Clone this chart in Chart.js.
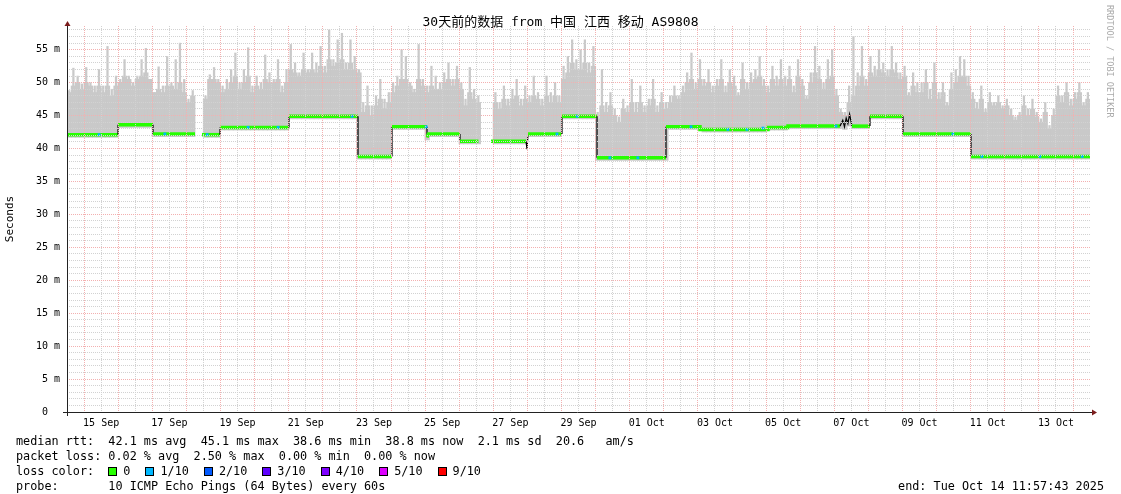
<!DOCTYPE html>
<html>
<head>
<meta charset="utf-8">
<title>30天前的数据 from 中国 江西 移动 AS9808</title>
<script src="https://cdn.jsdelivr.net/npm/chart.js@4.4.1/dist/chart.umd.min.js"></script>
<style>
  html, body { margin: 0; padding: 0; background: #fff; }
  #wrap { position: relative; width: 1121px; height: 494px; overflow: hidden; }
  #chart { position: absolute; left: 0; top: 0; }
  .info { position: absolute; left: 16px; font: 11.8px 'DejaVu Sans Mono', monospace; white-space: pre; color: #000; line-height: 15px; }
  .box { display: inline-block; width: 7px; height: 7px; border: 1px solid #000; vertical-align: -1px; margin-right: 6px; }
  .lbl { margin-right: 15px; }
</style>
</head>
<body>
<div id="wrap">
  <canvas id="chart" width="1121" height="494"></canvas>
  <div class="info" style="top:434px">median rtt:  42.1 ms avg  45.1 ms max  38.6 ms min  38.8 ms now  2.1 ms sd  20.6   am/s</div>
  <div class="info" style="top:449px">packet loss: 0.02 % avg  2.50 % max  0.00 % min  0.00 % now</div>
  <div class="info" id="lossRow" style="top:464px">loss color:  </div>
  <div class="info" style="top:479px">probe:       10 ICMP Echo Pings (64 Bytes) every 60s</div>
  <div class="info" style="top:479px; left:auto; right:17px">end: Tue Oct 14 11:57:43 2025</div>
</div>
<script>
// x in days since Sep 14 11:57:43 (30 days, ending Oct 14 11:57:43)
const chartTitle = '30天前的数据 from 中国 江西 移动 AS9808';
const firstNoon = 0.0016; // Sep 14 12:00
const xTickLabels = ['15 Sep', '17 Sep', '19 Sep', '21 Sep', '23 Sep', '25 Sep', '27 Sep', '29 Sep',
                     '01 Oct', '03 Oct', '05 Oct', '07 Oct', '09 Oct', '11 Oct', '13 Oct'];
const yTickValues = [0, 5, 10, 15, 20, 25, 30, 35, 40, 45, 50, 55];
const yTickLabels = ['0  ', '5 m', '10 m', '15 m', '20 m', '25 m', '30 m', '35 m', '40 m', '45 m', '50 m', '55 m'];

// median rtt (ms), [day, value]; null = no data
const medianSteps = [
  [0, 42.1], [1.496, 42.1], [1.496, 43.6], [2.522, 43.6], [2.522, 42.2], [3.754, 42.2],
  [3.85, null],
  [3.959, 42.1], [4.487, 42.1], [4.487, 43.2], [6.510, 43.2], [6.510, 44.9], [8.534, 44.9],
  [8.534, 38.8], [9.531, 38.8], [9.531, 43.3], [10.557, 43.3], [10.557, 41.7], [10.60, 42.2],
  [11.525, 42.2], [11.525, 41.1], [12.065, 41.1],
  [12.2, null],
  [12.434, 41.1], [13.46, 41.1], [13.49, 39.9], [13.52, 42.2], [14.516, 42.2], [14.516, 44.9],
  [15.543, 44.9], [15.543, 38.6], [17.566, 38.6], [17.566, 43.3], [18.563, 43.3], [18.563, 42.9],
  [20.557, 42.9], [20.557, 43.2], [21.144, 43.2], [21.144, 43.4], [22.669, 43.4],
  [22.75, 44.3], [22.80, 43.3], [22.85, 44.6], [22.90, 43.8], [22.95, 45.2], [23.02, 43.4],
  [23.548, 43.4], [23.548, 44.9], [24.516, 44.9], [24.516, 42.2], [26.510, 42.2],
  [26.510, 38.8], [30, 38.8]
];

// dense part of the smoke (ms), 3-hour slots, 8 per day
const smokeBody = [
  48.5, 49.5, 50.0, 49.0, 50.0, 49.5, 48.5, 49.5,
  48.5, 49.5, 48.0, 49.5, 50.0, 51.0, 50.5, 49.5,
  50.5, 51.0, 51.5, 50.5, 48.5, 49.0, 48.5, 49.5,
  49.5, 49.0, 50.0, 48.5, 47.0, 48.0, null, null,
  47.5, 50.5, 50.5, 50.0, 48.5, 49.0, 50.0, 51.0,
  49.0, 50.0, 51.0, 48.5, 49.5, 49.0, 50.5, 50.0,
  50.0, 50.5, 48.5, 50.0, 52.0, 51.5, 51.0, 52.0,
  51.5, 52.0, 51.5, 52.5, 51.5, 53.5, 52.5, 53.0,
  53.5, 52.0, 53.0, 52.0, 51.5, 45.5, 46.5, 45.0,
  46.5, 47.5, 46.0, 47.0, 48.5, 49.5, 50.5, 50.5,
  49.5, 48.5, 50.5, 49.5, 48.5, 49.5, 49.0, 49.0,
  50.0, 50.5, 49.5, 50.5, 49.0, 46.5, 48.5, 47.5,
  47.0, null, null, null, 47.0, 46.0, 47.5, 46.5,
  47.5, 48.0, 46.5, 47.5, 47.0, 48.0, 47.5, 46.5,
  48.0, 47.0, 48.0, 47.0, 50.5, 51.5, 53.0, 52.0,
  52.0, 53.0, 51.5, 52.5, 44.5, 46.5, 45.5, 46.5,
  45.0, 44.0, 46.0, 45.5, 47.0, 45.5, 47.0, 45.5,
  46.5, 47.5, 45.5, 47.0, 46.0, 47.0, 48.0, 47.5,
  48.5, 50.0, 50.5, 49.0, 50.5, 49.5, 50.0, 48.5,
  49.5, 50.5, 48.5, 50.0, 49.5, 48.0, 50.5, 49.0,
  50.0, 50.5, 51.0, 49.5, 48.5, 50.5, 49.5, 50.5,
  49.5, 50.5, 48.5, 51.0, 49.5, 47.5, 50.0, 51.5,
  50.5, 49.0, 50.5, 51.0, 48.0, 45.5, 45.0, 47.0,
  48.0, 49.5, 51.0, 49.5, 51.5, 51.0, 52.0, 51.5,
  51.0, 52.0, 51.5, 50.5, 51.0, 48.0, 49.5, 48.5,
  48.5, 50.0, 47.5, 50.0, 47.5, 48.5, 46.5, 49.0,
  50.0, 51.0, 51.0, 49.5, 47.5, 46.0, 47.5, 45.5,
  47.0, 46.5, 47.0, 46.0, 46.5, 45.0, 44.3, 45.0,
  46.5, 45.0, 46.0, 44.8, 44.0, 45.5, 43.0, 45.0,
  48.0, 47.0, 48.5, 46.5, 47.5, 48.5, 46.5, 47.5
];

// highest spike of the smoke (ms) in each 3-hour slot
const smokeTop = [
  48.8, 52.2, 51.0, 49.8, 52.3, 50.0, 49.5, 52.0,
  49.5, 55.5, 49.0, 51.0, 50.5, 53.5, 51.0, 50.0,
  51.0, 53.5, 55.2, 49.0, 48.5, 52.4, 49.5, 54.0,
  50.0, 53.5, 56.0, 50.5, 47.5, 48.8, null, null,
  48.0, 51.2, 52.3, 50.5, 49.5, 50.5, 52.0, 54.5,
  50.0, 52.0, 55.3, 49.5, 51.0, 50.0, 54.2, 51.5,
  50.5, 53.5, 49.5, 52.0, 55.8, 53.0, 51.5, 54.5,
  52.0, 54.5, 53.0, 55.5, 52.5, 58.0, 53.5, 56.5,
  57.5, 53.0, 56.5, 54.0, 52.0, 47.0, 49.5, 46.5,
  48.0, 50.5, 47.5, 48.5, 50.0, 51.0, 55.0, 54.0,
  50.0, 49.0, 55.8, 50.5, 49.5, 52.5, 51.0, 50.0,
  51.5, 53.0, 50.5, 52.5, 50.0, 47.5, 52.3, 49.0,
  48.0, null, null, null, 48.5, 47.0, 49.5, 47.5,
  49.0, 50.5, 47.5, 49.5, 48.0, 51.0, 48.5, 47.5,
  51.0, 48.5, 50.0, 48.0, 52.5, 54.0, 56.5, 53.5,
  55.0, 56.5, 53.0, 55.5, 45.5, 52.0, 47.0, 48.5,
  46.0, 44.8, 47.5, 46.5, 50.5, 47.0, 49.5, 46.5,
  47.5, 50.5, 46.5, 48.5, 47.0, 48.0, 49.5, 48.0,
  49.5, 51.5, 54.5, 50.0, 53.5, 50.5, 52.0, 49.5,
  50.5, 53.5, 49.5, 52.0, 51.0, 48.5, 53.0, 50.0,
  51.5, 52.0, 54.0, 50.5, 49.5, 52.5, 51.0, 53.5,
  51.0, 52.5, 49.5, 53.5, 50.5, 48.0, 51.5, 55.5,
  52.5, 50.0, 53.5, 55.0, 49.0, 46.0, 45.5, 49.5,
  57.0, 51.5, 55.5, 50.5, 54.0, 52.5, 55.0, 53.0,
  52.0, 55.5, 53.0, 51.5, 52.5, 48.5, 51.5, 50.0,
  50.0, 52.0, 49.0, 53.0, 48.5, 50.0, 47.0, 51.5,
  52.0, 54.0, 53.5, 51.0, 48.5, 47.0, 49.5, 46.0,
  48.5, 47.0, 48.0, 46.5, 47.5, 46.0, 44.8, 45.5,
  48.0, 46.0, 47.5, 45.5, 44.5, 47.0, 43.5, 46.0,
  49.5, 48.0, 50.0, 47.5, 48.5, 50.0, 47.0, 48.5
];

// samples with 1/10 loss on the median
const lossOneDays = [0.94, 2.87, 4.11, 5.31, 6.19, 8.36, 10.53, 14.37, 14.96, 15.92,
                     16.74, 18.30, 19.38, 19.94, 20.41, 22.55, 25.98, 26.83, 28.53, 29.77];
const lossOneValues = [42.1, 42.2, 42.1, 43.2, 43.2, 44.9, 43.3, 42.2, 44.9, 38.6,
                       38.6, 43.3, 42.9, 42.9, 43.1, 43.4, 42.2, 38.8, 38.8, 38.8];

const lossLabels = ['0', '1/10', '2/10', '3/10', '4/10', '5/10', '9/10'];
const lossColors = ['#26ff00', '#00b8ff', '#0059ff', '#5e00ff', '#7e00ff', '#dd00ff', '#ff0000'];

const MONO = "'DejaVu Sans Mono', 'Noto Sans CJK SC', monospace";
const MINOR = '#d2d2d2';
const MAJOR = '#f3b0b0';
const SMOKE = '#c9c9c9';

function medianAt(d) {
  let best = null;
  for (let i = 0; i < medianSteps.length - 1; i++) {
    const a = medianSteps[i], b = medianSteps[i + 1];
    if (a[1] === null || b[1] === null) continue;
    if (d >= a[0] && d <= b[0]) {
      const m = Math.min(a[1], b[1]);
      best = best === null ? m : Math.min(best, m);
    }
  }
  return best === null ? 40 : best;
}

const slotDay = i => (i + 0.5) / 8;
const bodyData = smokeBody.map((v, i) => ({
  x: slotDay(i), y: v === null ? null : [medianAt(slotDay(i)) - 0.4, v]
}));
const spikeData = smokeTop.map((v, i) => ({
  x: slotDay(i), y: v === null ? null : [medianAt(slotDay(i)), v]
}));

const halfDays = [];
for (let v = firstNoon; v < 30; v += 0.5) halfDays.push(v);

// legend row
const row = document.getElementById('lossRow');
lossLabels.forEach((lab, i) => {
  const b = document.createElement('span');
  b.className = 'box';
  b.style.background = lossColors[i];
  row.appendChild(b);
  const t = document.createElement('span');
  t.className = 'lbl';
  t.textContent = lab;
  row.appendChild(t);
});

const rrdDecor = {
  id: 'rrdDecor',
  afterDraw(chart) {
    const { ctx, chartArea: a } = chart;
    ctx.save();
    // title, centred on the whole image
    ctx.font = '13px ' + MONO;
    ctx.fillStyle = '#000';
    ctx.textAlign = 'center';
    ctx.textBaseline = 'middle';
    ctx.fillText(chartTitle, chart.width / 2, 22.5);
    // axes
    ctx.strokeStyle = '#222';
    ctx.lineWidth = 1;
    ctx.beginPath();
    ctx.moveTo(a.left + 0.5, a.bottom + 4);
    ctx.lineTo(a.left + 0.5, a.top - 2);
    ctx.moveTo(a.left - 4, a.bottom + 0.5);
    ctx.lineTo(a.right + 2, a.bottom + 0.5);
    ctx.stroke();
    ctx.fillStyle = '#7b1c1c';
    ctx.beginPath();
    ctx.moveTo(a.left + 0.5, a.top - 5);
    ctx.lineTo(a.left - 2.5, a.top);
    ctx.lineTo(a.left + 3.5, a.top);
    ctx.closePath();
    ctx.fill();
    ctx.beginPath();
    ctx.moveTo(a.right + 7, a.bottom + 0.5);
    ctx.lineTo(a.right + 2, a.bottom - 2.5);
    ctx.lineTo(a.right + 2, a.bottom + 3.5);
    ctx.closePath();
    ctx.fill();
    // watermark
    ctx.translate(1107, 5);
    ctx.rotate(Math.PI / 2);
    ctx.font = '8.5px ' + MONO;
    ctx.fillStyle = '#aaaaaa';
    ctx.textAlign = 'left';
    ctx.textBaseline = 'alphabetic';
    ctx.fillText('RRDTOOL / TOBI OETIKER', 0, 0);
    ctx.restore();
  }
};

const jump = c => Math.abs(c.p1.parsed.y - c.p0.parsed.y) > 0.6;

new Chart(document.getElementById('chart'), {
  type: 'bar',
  data: {
    datasets: [
      {
        type: 'line',
        label: 'loss 1/10',
        data: lossOneDays.map((d, i) => ({ x: d, y: lossOneValues[i] })),
        showLine: false,
        pointStyle: 'rect',
        pointRadius: 2,
        pointBorderWidth: 0,
        pointBackgroundColor: lossColors[1],
        order: 1
      },
      {
        type: 'line',
        label: 'median rtt',
        data: medianSteps.map(p => ({ x: p[0], y: p[1] })),
        borderColor: lossColors[0],
        borderWidth: 3.5,
        pointRadius: 0,
        tension: 0,
        spanGaps: false,
        segment: {
          borderColor: c => (jump(c) ? '#000' : undefined),
          borderWidth: c => (jump(c) ? 1.2 : undefined)
        },
        order: 2
      },
      {
        label: 'smoke spikes',
        data: spikeData,
        backgroundColor: SMOKE,
        borderWidth: 0,
        barThickness: 1.6,
        grouped: false,
        order: 3
      },
      {
        label: 'smoke',
        data: bodyData,
        backgroundColor: SMOKE,
        borderWidth: 0,
        barThickness: 4.6,
        grouped: false,
        order: 4
      }
    ]
  },
  options: {
    responsive: false,
    devicePixelRatio: 1,
    animation: false,
    events: [],
    layout: { padding: { left: 0, right: 31, top: 26, bottom: 62 } },
    plugins: {
      legend: { display: false },
      tooltip: { enabled: false },
      title: { display: false }
    },
    scales: {
      x: {
        type: 'linear',
        min: 0,
        max: 30,
        offset: false,
        afterBuildTicks: s => { s.ticks = halfDays.map(v => ({ value: v })); },
        afterFit: s => { s.height = 20; },
        ticks: {
          autoSkip: false,
          maxRotation: 0,
          padding: 5,
          color: '#000',
          font: { family: MONO, size: 10 },
          callback: (v, i) => (i % 4 === 2 ? xTickLabels[(i - 2) / 4] : '')
        },
        grid: {
          z: 1,
          offset: false,
          drawTicks: false,
          color: c => (c.index % 2 === 1 ? MAJOR : MINOR)
        },
        border: { display: false, dash: [1, 1] }
      },
      y: {
        min: 0,
        max: 58.6,
        afterBuildTicks: s => { s.ticks = Array.from({ length: 59 }, (_, v) => ({ value: v })); },
        afterFit: s => { s.width = 67; },
        ticks: {
          autoSkip: false,
          padding: 7,
          color: '#000',
          font: { family: MONO, size: 10 },
          callback: v => { const k = yTickValues.indexOf(v); return k < 0 ? '' : yTickLabels[k]; }
        },
        grid: {
          z: 1,
          drawTicks: false,
          color: c => (c.tick.value === 0 ? 'rgba(0,0,0,0)' : (c.tick.value % 5 === 0 ? MAJOR : MINOR))
        },
        border: { display: false, dash: [1, 1] },
        title: {
          display: true,
          text: 'Seconds',
          color: '#000',
          font: { family: MONO, size: 11 },
          padding: { top: 4, bottom: 4 }
        }
      }
    }
  },
  plugins: [rrdDecor]
});
</script>
</body>
</html>
